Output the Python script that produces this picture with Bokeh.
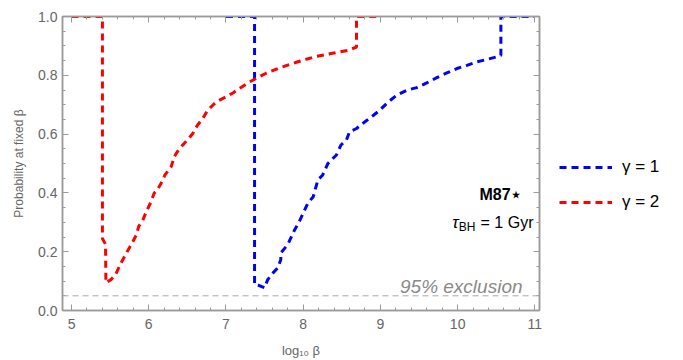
from bokeh.plotting import figure
from bokeh.layouts import row
from bokeh.models import (LinearAxis, FixedTicker, Label, Legend, LegendItem, Span,
                          CustomLabelingPolicy, Range1d)
from bokeh.embed import file_html
from bokeh.resources import INLINE

# gamma = 2 (red)
red_x = [5.0, 5.40, 5.40, 5.44, 5.445, 5.51, 5.57, 5.63, 5.70, 5.72, 5.78, 5.84, 5.87, 5.92,
         5.97, 6.03, 6.07, 6.11, 6.16, 6.21, 6.29, 6.33, 6.37, 6.44, 6.50, 6.57, 6.63, 6.70,
         6.76, 6.87, 6.98, 7.09, 7.19, 7.30, 7.41, 7.52, 7.69, 7.93, 8.15, 8.36, 8.58, 8.69,
         8.69, 9.0]
red_y = [1.0, 1.0, 0.245, 0.225, 0.094, 0.105, 0.122, 0.156, 0.19, 0.20, 0.227, 0.258, 0.286, 0.306,
         0.337, 0.37, 0.399, 0.41, 0.433, 0.461, 0.489, 0.523, 0.54, 0.563, 0.58, 0.602, 0.63, 0.653,
         0.68, 0.709, 0.724, 0.74, 0.758, 0.777, 0.792, 0.807, 0.825, 0.846, 0.863, 0.874, 0.885, 0.896,
         1.0, 1.0]

# gamma = 1 (blue)
blue_x = [7.0, 7.37, 7.37, 7.43, 7.50, 7.54, 7.61, 7.67, 7.71, 7.71, 7.80, 7.89, 7.95, 8.00,
          8.06, 8.13, 8.19, 8.25, 8.32, 8.43, 8.49, 8.56, 8.60, 8.69, 8.80, 8.91, 8.99, 9.10,
          9.21, 9.34, 9.47, 9.60, 9.73, 9.86, 9.99, 10.12, 10.25, 10.38, 10.51, 10.56, 10.56, 11.0]
blue_y = [1.0, 1.0, 0.088, 0.085, 0.077, 0.105, 0.128, 0.145, 0.173, 0.196, 0.224, 0.275, 0.303, 0.331,
          0.365, 0.387, 0.444, 0.46, 0.50, 0.529, 0.563, 0.58, 0.608, 0.619, 0.642, 0.664, 0.681, 0.709,
          0.732, 0.749, 0.758, 0.774, 0.792, 0.808, 0.823, 0.834, 0.846, 0.854, 0.863, 0.868, 1.0, 1.0]

series_labels = ["γ = 1", "γ = 2"]
exclusion_level = 0.05

x_ticks = [5, 6, 7, 8, 9, 10, 11]
x_minor = [round(4.8 + 0.2 * i, 2) for i in range(33)]
y_ticks = [0.0, 0.2, 0.4, 0.6, 0.8, 1.0]
y_minor = [round(0.05 * i, 2) for i in range(21)]

FRAME = "#9a9a9a"
TXT = "#666666"
FONT = "Liberation Sans"
BLUE = "#0000ff"
RED = "#ff0000"
DASH = "7 5"

p = figure(width=545, height=360, x_range=(4.883, 11.06), y_range=(0, 1),
           output_backend="svg", toolbar_location=None,
           min_border_left=62, min_border_right=6, min_border_top=16, min_border_bottom=49,
           x_axis_label="log₁₀ β", y_axis_label="Probability at fixed β")
p.grid.visible = False
p.outline_line_color = FRAME
p.outline_line_width = 1.5
p.background_fill_color = "white"
p.border_fill_color = "white"

p.add_layout(LinearAxis(), "above")
p.add_layout(LinearAxis(), "right")

bottom, top, left, right = p.below[0], p.above[0], p.left[0], p.right[0]

for ax in (bottom, top):
    ax.ticker = FixedTicker(ticks=x_ticks, minor_ticks=x_minor)
for ax in (left, right):
    ax.ticker = FixedTicker(ticks=y_ticks, minor_ticks=y_minor)

for ax in (bottom, top, left, right):
    ax.axis_line_color = FRAME
    ax.axis_line_width = 1.5
    ax.major_tick_in = 6
    ax.major_tick_out = 0
    ax.minor_tick_in = 3
    ax.minor_tick_out = 0
    ax.major_tick_line_color = FRAME
    ax.minor_tick_line_color = FRAME
    ax.major_tick_line_width = 1
    ax.minor_tick_line_width = 1
    ax.major_label_text_color = TXT
    ax.major_label_text_font = FONT
    ax.major_label_text_font_size = "14px"
    ax.axis_label_text_color = TXT
    ax.axis_label_text_font = FONT
    ax.axis_label_text_font_style = "normal"

left.major_label_standoff = 5
left.axis_label_standoff = 9
left.axis_label_text_font_size = "12px"
left.major_label_overrides = {v: f"{v:.1f}" for v in y_ticks}
bottom.major_label_standoff = 8
bottom.axis_label_standoff = 11
bottom.axis_label_text_font_size = "13px"

hide_all = CustomLabelingPolicy(code="for (const i of Array.from(indices)) indices.unset(i)")
for ax in (top, right):
    ax.major_label_policy = hide_all
    ax.major_label_text_font_size = "0px"
    ax.major_label_standoff = 0
    ax.axis_label = None

p.add_layout(Span(location=exclusion_level, dimension="width", line_color="#a8a8a8",
                  line_dash="6 4", line_width=1))

p.line(blue_x, blue_y, line_color=BLUE, line_width=3, line_dash=DASH)
p.line(red_x, red_y, line_color=RED, line_width=3, line_dash=DASH)

p.add_layout(Label(x=10.84, y=0.047, text="95% exclusion", text_align="right",
                   text_baseline="bottom", text_color="#8a8a8a", text_font=FONT,
                   text_font_style="italic", text_font_size="19px"))
p.add_layout(Label(x=10.816, y=0.393, text="M87⋆", text_align="right", text_baseline="middle",
                   text_color="black", text_font=FONT, text_font_style="bold",
                   text_font_size="16px"))
p.add_layout(Label(x=10.013, y=0.298, text="τ", text_align="right", text_baseline="middle",
                   text_color="black", text_font=FONT, text_font_style="italic",
                   text_font_size="17px"))
p.add_layout(Label(x=10.013, y=0.283, text="BH", text_align="left", text_baseline="middle",
                   text_color="black", text_font=FONT, text_font_size="12px"))
p.add_layout(Label(x=10.297, y=0.298, text="= 1 Gyr", text_align="left", text_baseline="middle",
                   text_color="black", text_font=FONT, text_font_size="16px"))

# legend panel (the series lines here fall outside its range, only the legend shows)
q = figure(width=138, height=360, x_range=Range1d(0, 1), y_range=Range1d(0, 1),
           output_backend="svg", toolbar_location=None,
           x_axis_location=None, y_axis_location=None, min_border=0)
q.grid.visible = False
q.outline_line_color = None
q.border_fill_color = "white"
lb = q.line(blue_x, blue_y, line_color=BLUE, line_width=3, line_dash=DASH)
lr = q.line(red_x, red_y, line_color=RED, line_width=3, line_dash=DASH)
legend = Legend(items=[LegendItem(label=series_labels[0], renderers=[lb]),
                       LegendItem(label=series_labels[1], renderers=[lr])],
                location=(14, 98), glyph_width=53, glyph_height=20, spacing=15,
                padding=0, margin=0, label_standoff=10,
                label_text_font=FONT, label_text_font_size="17px", label_text_color="black",
                border_line_color=None, background_fill_alpha=0)
q.add_layout(legend, "center")

layout = row(p, q, spacing=0)
open("out.html", "w").write(file_html(layout, INLINE))
